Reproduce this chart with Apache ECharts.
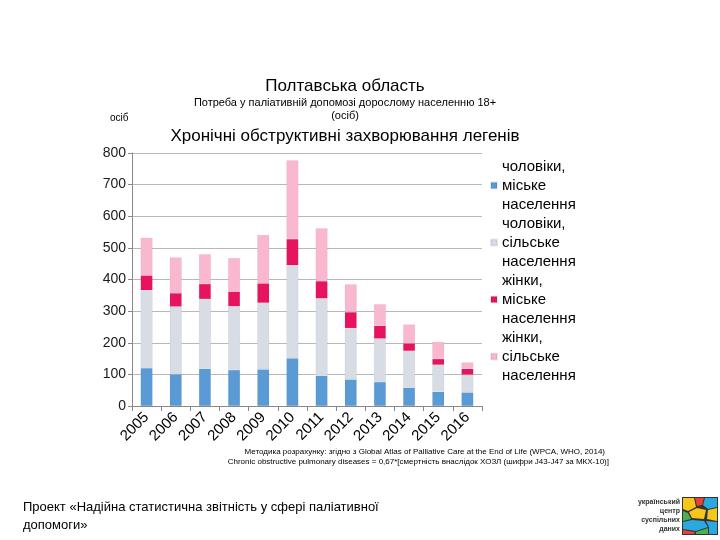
<!DOCTYPE html>
<html>
<head>
<meta charset="utf-8">
<script src="https://cdn.jsdelivr.net/npm/echarts@6/dist/echarts.min.js"></script>
<style>html,body{margin:0;padding:0;background:#fff}#c{width:720px;height:540px}</style>
</head>
<body>
<div id="c"></div>
<script>
var categories = ['2005','2006','2007','2008','2009','2010','2011','2012','2013','2014','2015','2016'];
var menUrban   = [120, 100, 118, 114, 116, 151, 96, 84, 76, 58, 45, 43];
var menRural   = [246, 214, 220, 201, 210, 294, 244, 162, 137, 116, 85, 56];
var womenUrban = [47, 43, 48, 47, 62, 83, 55, 51, 41, 24, 19, 19];
var womenRural = [119, 113, 94, 106, 153, 249, 167, 88, 68, 60, 54, 20];
var seriesNames = ['чоловіки,\nміське\nнаселення','чоловіки,\nсільське\nнаселення','жінки,\nміське\nнаселення','жінки,\nсільське\nнаселення'];
var yTicks = [0, 100, 200, 300, 400, 500, 600, 700, 800];

var colors = ['#5b9bd5', '#d7dce5', '#e8135e', '#f9b8d0'];
var dataSets = [menUrban, menRural, womenUrban, womenRural];
var F = '"Liberation Sans", Arial, sans-serif';

var chart = echarts.init(document.getElementById('c'));
var series = dataSets.map(function (d, i) {
  return {
    name: seriesNames[i], type: 'bar', stack: 'all', data: d, barWidth: 12,
    itemStyle: { color: colors[i], borderColor: 'rgba(0,0,0,0.08)', borderWidth: 0.5 }
  };
});

function txt(x, y, t, size, align, color, weight) {
  return { type: 'text', x: x, y: y, style: { text: t, font: (weight || 'normal') + ' ' + size + 'px ' + F, fill: color || '#000', textAlign: align || 'left', textVerticalAlign: 'top' } };
}

chart.setOption({
  animation: false,
  color: colors,
  grid: { left: 132, top: 153, width: 350, height: 253, containLabel: false },
  legend: {
    orient: 'vertical', left: 485, top: 152, itemWidth: 6, itemHeight: 6, itemGap: 0,
    icon: 'rect',
    textStyle: { fontFamily: F, fontSize: 15, lineHeight: 19, color: '#000' },
    data: seriesNames
  },
  xAxis: {
    type: 'category', data: categories,
    axisLine: { lineStyle: { color: '#898989' } },
    axisTick: { show: true, alignWithLabel: false, lineStyle: { color: '#898989' }, length: 5 },
    axisLabel: { rotate: 45, fontFamily: F, fontSize: 15, color: '#000', margin: 9, interval: 0 }
  },
  yAxis: {
    type: 'value', min: 0, max: 800, interval: 100,
    axisLine: { show: true, lineStyle: { color: '#898989' } },
    axisTick: { show: true, length: 4, lineStyle: { color: '#898989' } },
    axisLabel: { fontFamily: F, fontSize: 14, color: '#1a1a1a', margin: 6,
      formatter: function (v) { return yTicks.indexOf(v) >= 0 ? String(v) : ''; } },
    splitLine: { lineStyle: { color: '#b8b8b8' } }
  },
  series: series,
  graphic: [
    txt(345, 78, 'Полтавська область', 17, 'center'),
    txt(345, 97, 'Потреба у паліативній допомозі дорослому населенню 18+', 11, 'center'),
    txt(345, 110, '(осіб)', 11, 'center'),
    txt(110, 113, 'осіб', 10, 'left'),
    txt(345, 128, 'Хронічні обструктивні захворювання легенів', 17, 'center'),
    txt(605, 448, 'Методика розрахунку: згідно з Global Atlas of Palliative Care at the End of Life (WPCA, WHO, 2014)', 8, 'right'),
    txt(609, 458, 'Chronic obstructive pulmonary diseases = 0,67*[смертність внаслідок ХОЗЛ (шифри J43-J47 за МКХ-10)]', 8, 'right'),
    txt(23, 501, 'Проект «Надійна статистична звітність у сфері паліативної', 13, 'left'),
    txt(23, 519, 'допомоги»', 13, 'left'),
    txt(680, 499, 'український', 7, 'right', '#333', 'bold'),
    txt(680, 508, 'центр', 7, 'right', '#333', 'bold'),
    txt(680, 517, 'суспільних', 7, 'right', '#333', 'bold'),
    txt(680, 526, 'даних', 7, 'right', '#333', 'bold'),
    { type: 'group', x: 682, y: 497, children: [
      { type: 'rect', shape: { x: 0, y: 0, width: 36, height: 38 }, style: { fill: '#333' } },
      { type: 'polygon', shape: { points: [[1,1],[12,1],[14,10],[6,14],[1,12]] }, style: { fill: '#f7c61a' } },
      { type: 'polygon', shape: { points: [[13,1],[22,1],[20,8],[15,9]] }, style: { fill: '#e9413a' } },
      { type: 'polygon', shape: { points: [[23,1],[35,1],[35,10],[26,12],[21,8]] }, style: { fill: '#2aa9e0' } },
      { type: 'polygon', shape: { points: [[7,15],[15,11],[24,13],[22,22],[10,21]] }, style: { fill: '#f7c61a' } },
      { type: 'polygon', shape: { points: [[26,13],[35,11],[35,24],[25,22]] }, style: { fill: '#f7c61a' } },
      { type: 'polygon', shape: { points: [[1,14],[6,16],[9,22],[1,24]] }, style: { fill: '#4caf50' } },
      { type: 'polygon', shape: { points: [[1,25],[10,23],[22,24],[26,30],[14,34],[1,32]] }, style: { fill: '#2aa9e0' } },
      { type: 'polygon', shape: { points: [[24,24],[35,25],[35,37],[27,37],[27,30]] }, style: { fill: '#2aa9e0' } },
      { type: 'polygon', shape: { points: [[1,33],[13,35],[12,37],[1,37]] }, style: { fill: '#e9413a' } },
      { type: 'polygon', shape: { points: [[14,35],[26,31],[26,37],[14,37]] }, style: { fill: '#4caf50' } }
    ] }
  ]
});
</script>
</body>
</html>
